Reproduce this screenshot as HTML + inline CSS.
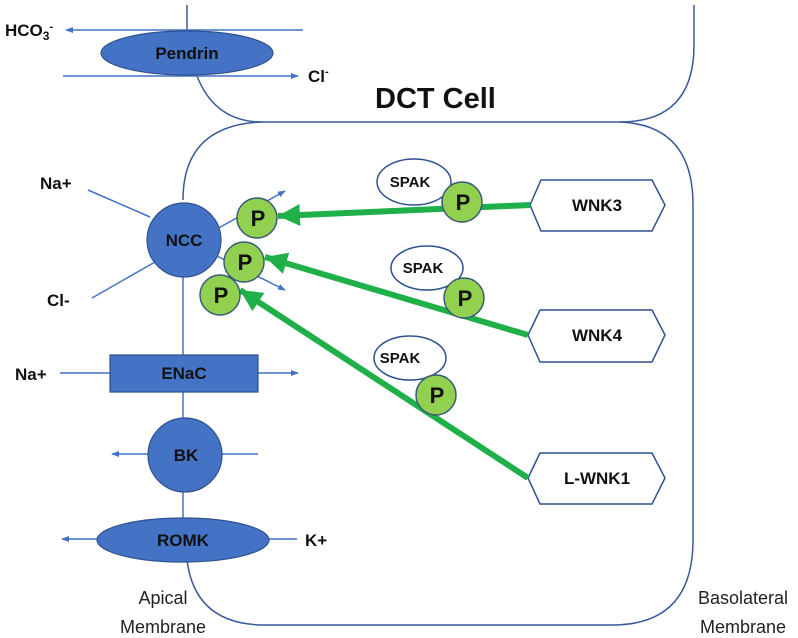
<!DOCTYPE html>
<html><head><meta charset="utf-8"><style>body{margin:0;background:#fff}svg{display:block}text{font-family:"Liberation Sans",sans-serif}</style></head><body>
<svg width="798" height="638" viewBox="0 0 798 638" xmlns="http://www.w3.org/2000/svg">
<defs>
<marker id="a" markerWidth="8" markerHeight="8" refX="7" refY="4" orient="auto" markerUnits="userSpaceOnUse"><path d="M0,1 L8,4 L0,7 Z" fill="#4472c4"/></marker>
<marker id="g" markerWidth="24" markerHeight="22" refX="22" refY="11" orient="auto" markerUnits="userSpaceOnUse"><path d="M0,0 L22,11 L0,22 Z" fill="#1fb04a"/></marker>
</defs>
<g fill="none" stroke="#3a5a9a" stroke-width="1.5">
<path d="M187,5 V32"/>
<path d="M197,76 Q215,122 262,122 H620 Q694,122 694,45 V5"/>
<path d="M262,122 Q183,125 183,200"/>
<path d="M620,122 Q693,125 693,205 V540 Q693,625 612,625 H265 Q195,625 187,560"/>
</g>
<g stroke="#4472c4" stroke-width="1.5" fill="none">
<line x1="303" y1="30" x2="66" y2="30" marker-end="url(#a)"/>
<line x1="63" y1="76" x2="298" y2="76" marker-end="url(#a)"/>
<line x1="88" y1="190" x2="150" y2="217"/>
<line x1="92" y1="298" x2="155" y2="262"/>
<line x1="215" y1="230" x2="285" y2="191" marker-end="url(#a)"/>
<line x1="215" y1="255" x2="285" y2="290" marker-end="url(#a)"/>
<line x1="183" y1="270" x2="183" y2="355"/>
<line x1="60" y1="373" x2="110" y2="373"/>
<line x1="258" y1="373" x2="298" y2="373" marker-end="url(#a)"/>
<line x1="183" y1="392" x2="183" y2="420"/>
<line x1="148" y1="454" x2="112" y2="454" marker-end="url(#a)"/>
<line x1="222" y1="454" x2="258" y2="454"/>
<line x1="183" y1="490" x2="183" y2="518"/>
<line x1="97" y1="539" x2="62" y2="539" marker-end="url(#a)"/>
<line x1="269" y1="539" x2="297" y2="539"/>
</g>
<g fill="#4472c4" stroke="#2f528f" stroke-width="1.2">
<ellipse cx="187" cy="53" rx="86" ry="22"/>
<circle cx="184" cy="240" r="37"/>
<rect x="110" y="355" width="148" height="37"/>
<circle cx="185" cy="455" r="37"/>
<ellipse cx="183" cy="540" rx="86" ry="22"/>
</g>
<g font-weight="bold" font-size="17" text-anchor="middle" fill="#111">
<text x="187" y="59">Pendrin</text>
<text x="184" y="246">NCC</text>
<text x="184" y="379">ENaC</text>
<text x="186" y="461">BK</text>
<text x="183" y="546">ROMK</text>
</g>
<g font-weight="bold" font-size="17" fill="#111">
<text x="5" y="36">HCO<tspan font-size="12" dy="4">3</tspan><tspan font-size="11" dy="-10">-</tspan></text>
<text x="308" y="82">Cl<tspan font-size="11" dy="-7">-</tspan></text>
<text x="40" y="189">Na+</text>
<text x="47" y="306">Cl-</text>
<text x="15" y="380">Na+</text>
<text x="305" y="546">K+</text>
<text x="375" y="108" font-size="29">DCT Cell</text>
</g>
<g font-size="18" fill="#222" text-anchor="middle">
<text x="163" y="604">Apical</text>
<text x="163" y="633">Membrane</text>
<text x="743" y="604">Basolateral</text>
<text x="743" y="633">Membrane</text>
</g>
<g fill="#fff" stroke="#2f528f" stroke-width="1.5">
<ellipse cx="414" cy="182" rx="37" ry="23"/>
<ellipse cx="427" cy="268" rx="36" ry="22"/>
<ellipse cx="410" cy="358" rx="36" ry="22"/>
<polygon points="530,205 541,180 652,180 665,205 652,231 541,231"/>
<polygon points="528,335 540,310 652,310 665,335 652,362 540,362"/>
<polygon points="528,478 540,453 652,453 665,478 652,504 540,504"/>
</g>
<g font-weight="bold" font-size="15" text-anchor="middle" fill="#111">
<text x="410" y="187">SPAK</text>
<text x="423" y="273">SPAK</text>
<text x="400" y="363">SPAK</text>
<text x="597" y="211" font-size="17">WNK3</text>
<text x="597" y="341" font-size="17">WNK4</text>
<text x="597" y="484" font-size="17">L-WNK1</text>
</g>
<g stroke="#1fb04a" stroke-width="6" fill="none">
<line x1="530" y1="205" x2="278" y2="216" marker-end="url(#g)"/>
<line x1="528" y1="335" x2="265" y2="257" marker-end="url(#g)"/>
<line x1="528" y1="478" x2="240" y2="290" marker-end="url(#g)"/>
</g>
<g fill="#92d050" stroke="#3a5a7a" stroke-width="1.5">
<circle cx="257" cy="218" r="20"/>
<circle cx="244" cy="262" r="20"/>
<circle cx="220" cy="295" r="20"/>
<circle cx="462" cy="202" r="20"/>
<circle cx="464" cy="298" r="20"/>
<circle cx="436" cy="395" r="20"/>
</g>
<g font-weight="bold" font-size="22" text-anchor="middle" fill="#111">
<text x="258" y="226">P</text>
<text x="245" y="270">P</text>
<text x="221" y="303">P</text>
<text x="463" y="210">P</text>
<text x="465" y="306">P</text>
<text x="437" y="403">P</text>
</g>
</svg>
</body></html>
